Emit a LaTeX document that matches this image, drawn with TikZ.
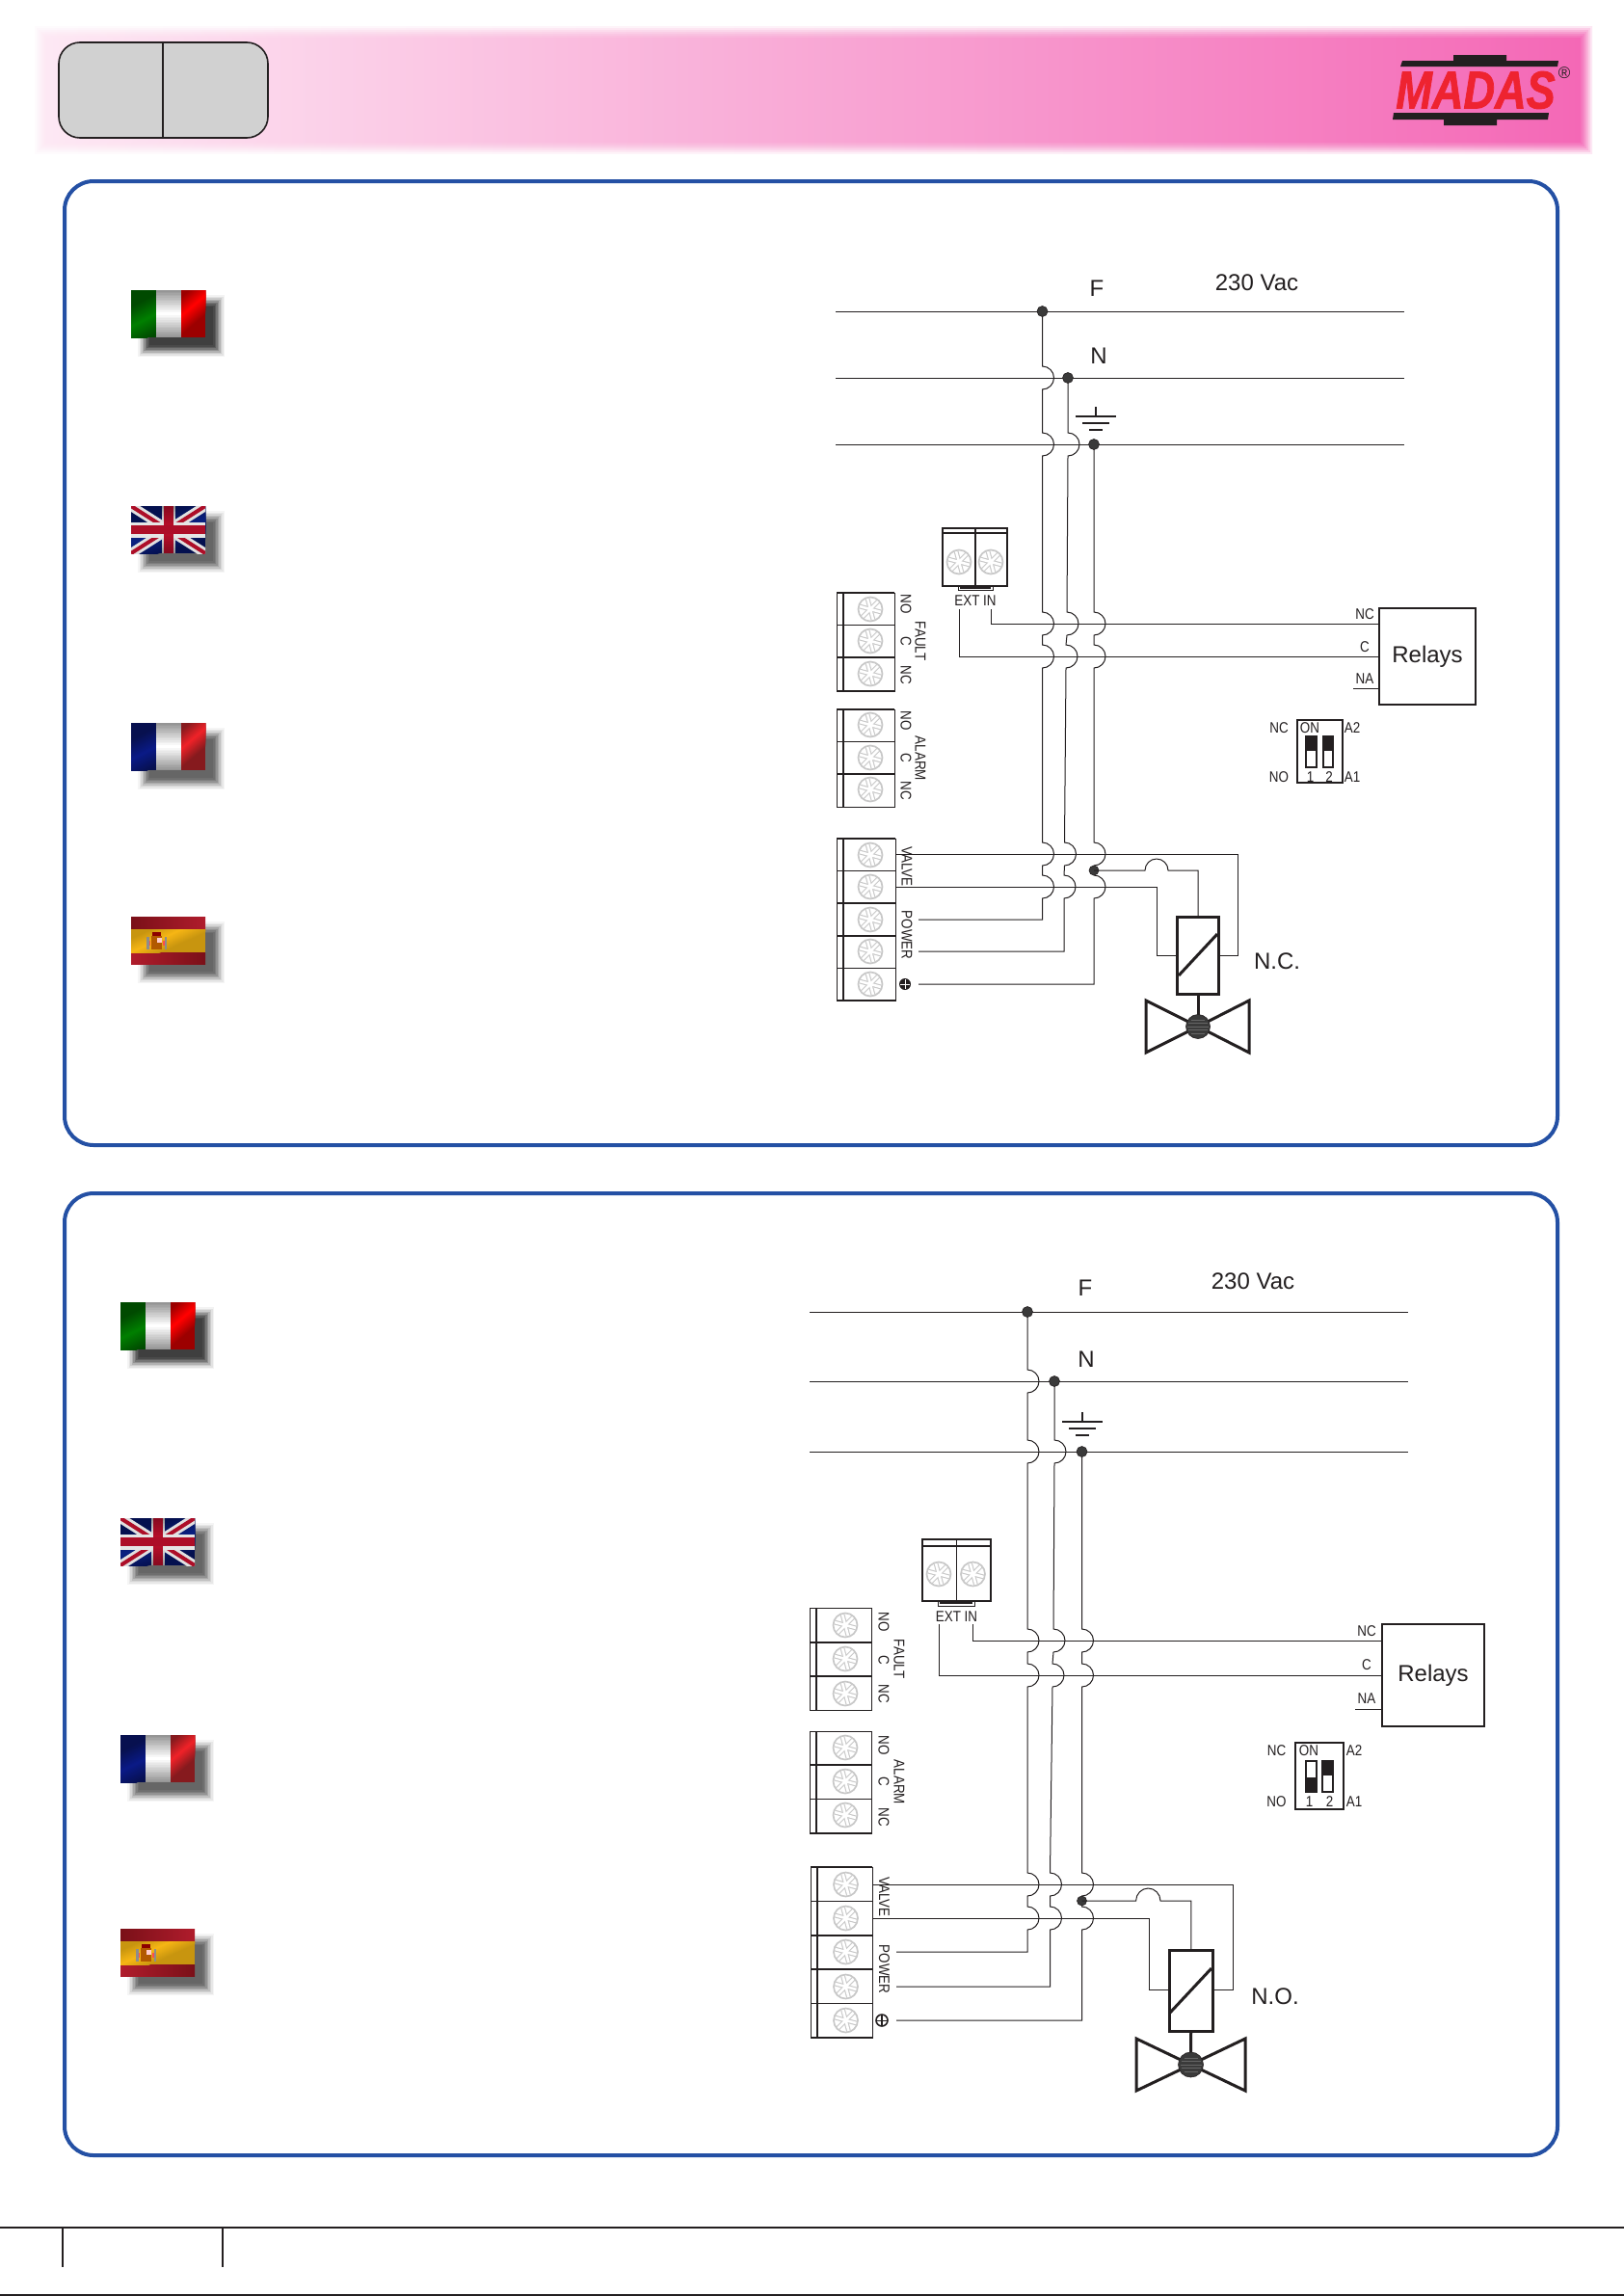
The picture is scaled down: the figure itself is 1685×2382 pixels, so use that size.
\documentclass[tikz,border=0pt]{standalone}
\usepackage{fontspec}
\usepackage{graphicx}
\setmainfont{Liberation Sans}
\newfontfamily\condfont[FakeStretch=0.86]{Liberation Sans}
\newfontfamily\logofont[BoldItalicFeatures={FakeBold=1.6}]{Liberation Sans}
\definecolor{panelblue}{HTML}{2450A4}
\definecolor{inkk}{HTML}{231F20}
\definecolor{screwc}{HTML}{C8C8C8}
\definecolor{dotc}{HTML}{3A3A3A}
\definecolor{logored}{HTML}{EE2330}
\definecolor{bandL}{HTML}{FDE8F4}
\definecolor{bandM}{HTML}{F8A6D8}
\definecolor{bandR}{HTML}{F468B6}
\definecolor{itgE}{HTML}{004A00}\definecolor{itgM}{HTML}{007E00}
\definecolor{itrE}{HTML}{9C0000}\definecolor{itrM}{HTML}{FF0000}
\definecolor{whE}{HTML}{959595}\definecolor{whM}{HTML}{FFFFFF}
\definecolor{frbE}{HTML}{07104F}\definecolor{frbM}{HTML}{0A1A85}
\definecolor{frrE}{HTML}{861A1E}\definecolor{frrM}{HTML}{ED2228}
\definecolor{ukbE}{HTML}{04104F}\definecolor{ukbM}{HTML}{0A2080}
\definecolor{ukrE}{HTML}{8A0A20}\definecolor{ukrM}{HTML}{C0102C}
\definecolor{esrA}{HTML}{7A1018}\definecolor{esrB}{HTML}{B01C2C}
\definecolor{esyE}{HTML}{C8950F}\definecolor{esyM}{HTML}{F5B514}
\tikzset{
 panelbox/.style={draw=panelblue,line width=2pt,rounded corners=15pt},
 wire/.style={draw=inkk,line width=0.5pt},
 heavyline/.style={draw=inkk,line width=1pt},
 thinline/.style={draw=inkk,line width=0.5pt},
 thickline/.style={draw=inkk,line width=1.5pt},
 txtS/.style={font=\condfont\fontsize{7.8}{9}\selectfont,text=inkk,inner sep=0pt,outer sep=0pt},
 txtL/.style={font=\fontsize{12}{14}\selectfont,text=inkk,inner sep=0pt,outer sep=0pt},
 rotS/.style={txtS,rotate=-90},
 joint/.style={circle,fill=dotc,draw=inkk,line width=0.3pt,minimum size=5.5pt,inner sep=0pt,outer sep=0pt},
 relaybox/.style={draw=inkk,line width=0.6pt,txtL,minimum width=50pt,minimum height=50pt,inner sep=0pt,outer sep=0pt},
 coilbox/.style={draw=inkk,line width=1.5pt,inner sep=0pt,outer sep=0pt},
 ballshape/.style={circle,fill=dotc,draw=inkk,line width=0.3pt,minimum size=12.5pt,inner sep=0pt,outer sep=0pt},
 dipbox/.style={draw=inkk,line width=0.7pt,inner sep=0pt,outer sep=0pt},
}
% screw
\newcommand{\screwmark}[2]{%
 \begin{scope}[shift={(#1,#2)}]
  \foreach \a in {15,75,135}{
   \draw[screwc,line width=2.4pt] (\a:11.5) -- (\a+180:11.5);}
  \foreach \a in {15,75,135}{
   \draw[white,line width=1.3pt] (\a:12) -- (\a+180:12);}
  \fill[white] (0,0) circle (2.4);
  \draw[screwc,line width=0.85pt] (0,0) circle (12.5);
 \end{scope}}
\newcommand{\termframe}[5]{%
 \draw[thinline] (#1,#4) rectangle (#3,#5);
 \draw[heavyline] (#2,#4) -- (#2,#5);}
\newcommand{\hrow}[4]{\draw[heavyline] (#1,#3) -- (#2,#3);}
\newcommand{\lrow}[4]{\draw[thinline] (#1,#3) -- (#2,#3);}
\newcommand{\vwire}[4]{%
 \draw[wire] (#1) \foreach \x/\y in {#2}{ -- (\x,\y-12) .. controls (\x+6.6,\y-12) and (\x+12,\y-6.6) .. (\x+12,\y) .. controls (\x+12,\y+6.6) and (\x+6.6,\y+12) .. (\x,\y+12) } -- (#3) -- (#4);}
\newcommand{\earthsym}[2]{%
 \draw[heavyline] (#1,#2) -- (#1,#2+10);
 \draw[heavyline] (#1-21,#2+10) -- (#1+21,#2+10);
 \draw[heavyline] (#1-14,#2+17) -- (#1+14,#2+17);
 \draw[heavyline] (#1-7,#2+24) -- (#1+7,#2+24);}
\newcommand{\pesignA}[2]{%
 \fill[inkk] (#1,#2) circle (6);
 \draw[white,line width=0.45pt] (#1-5,#2) -- (#1+5,#2);
 \draw[white,line width=0.45pt] (#1,#2-5) -- (#1,#2+5);}
\newcommand{\pesignB}[2]{%
 \draw[inkk,line width=0.8pt] (#1,#2) circle (6);
 \draw[inkk,line width=0.5pt] (#1-5.5,#2) -- (#1+5.5,#2);
 \draw[inkk,line width=1pt] (#1,#2-5.5) -- (#1,#2+5.5);}
\newcommand{\dipsw}[6]{%
 \fill[inkk] (#1,#4) rectangle (#2,#5);
 \draw[inkk,line width=0.7pt] (#1,#3) rectangle (#2,#6);}
\newcommand{\valvetri}[5]{%
 \draw[thickline,line join=miter] (#3,#2-27) -- (#1,#2) -- (#3,#2+27) -- cycle;
 \draw[thickline,line join=miter] (#4,#2-27) -- (#1,#2) -- (#4,#2+27) -- cycle;}
\newcommand{\ballstripes}[2]{%
 \foreach \d/\h in {-7/7,-3.5/10,0/11,3.5/10,7/7}{
  \draw[black!60,line width=0.3pt] (#1-\h,#2+\d) -- (#1+\h,#2+\d);}}
% flag shadow
\newcommand{\flagshadow}[1]{%
 \foreach \d/\o in {7/0.06,5.5/0.09,4/0.13,2.5/0.18,1/0.25,-0.5/0.3,-2/0.4,-3.5/0.5,-5/0.6}{
  \fill[#1,opacity=\o] (14-\d,12-\d) rectangle (90+\d,62+\d);}}
% nested bands: x0 x1 y0 y1 edge mid yc-at-x0 slope halfwidth
\newcommand{\gradbox}[9]{%
 \begin{scope}
 \clip (#1,#3) rectangle (#2,#4);
 \fill[#5] (#1,#3) rectangle (#2,#4);
 \pgfmathsetmacro\yr{#7+(#2-#1)*#8}
 \foreach \i in {0,...,13}{
  \pgfmathsetmacro\hw{#9*(1-\i/14)}
  \pgfmathtruncatemacro\p{100*(\i+1)/14}
  \fill[#6!\p!#5] (#1,#7-\hw) -- (#2,\yr-\hw) -- (#2,\yr+\hw) -- (#1,#7+\hw) -- cycle;}
 \end{scope}}
\newcommand{\flagIT}[2]{\begin{scope}[shift={(#1,#2)}]
 \flagshadow{black!78}
 \gradbox{0}{26}{0}{49}{itgE}{itgM}{38}{-0.5}{20}
 \gradbox{26}{52}{0}{49}{whE}{whM}{24.5}{0}{23}
 \gradbox{52}{77}{0}{49}{itrE}{itrM}{27}{-0.85}{19}
\end{scope}}
\newcommand{\flagFR}[2]{\begin{scope}[shift={(#1,#2)}]
 \flagshadow{black!62}
 \gradbox{0}{26}{0}{49}{frbE}{frbM}{38}{-0.5}{20}
 \gradbox{26}{52}{0}{49}{whE}{whM}{24.5}{0}{23}
 \gradbox{52}{77}{0}{49}{frrE}{frrM}{27}{-0.85}{19}
\end{scope}}
\newcommand{\flagUK}[2]{\begin{scope}[shift={(#1,#2)}]
 \flagshadow{black!62}
 \begin{scope}
  \clip (0,0) rectangle (77,49);
  \gradbox{0}{77}{0}{49}{ukbE}{ukbM}{38}{-0.3}{20}
  \draw[black!12,line width=5pt] (0,0) -- (77,49);
  \draw[black!12,line width=5pt] (77,0) -- (0,49);
  \draw[ukrM!90!black,line width=2pt] (0,0) -- (77,49);
  \draw[ukrM!90!black,line width=2pt] (77,0) -- (0,49);
  \gradbox{32}{46}{0}{49}{whE}{whM}{24.5}{0}{23}
  \fill[black!10] (0,17) rectangle (77,33);
  \gradbox{34}{44}{0}{49}{ukrE}{ukrM}{24.5}{0}{22}
  \fill[ukrM!90!black] (0,20) rectangle (77,29);
 \end{scope}
\end{scope}}
\newcommand{\flagES}[2]{\begin{scope}[shift={(#1,#2)}]
 \flagshadow{black!62}
 \shade[left color=esrA,middle color=esrA,right color=esrB] (0,0) rectangle (77,13);
 \shade[left color=esrB,middle color=esrA,right color=esrA] (0,37) rectangle (77,49);
 \gradbox{0}{77}{13}{37}{esyE}{esyM}{37}{-0.45}{14}
 \fill[orange!70!black] (21,20) rectangle (32,34);
 \fill[red!55!black] (22,16) rectangle (31,20);
 \fill[pink!80!white] (27,22) rectangle (32,27);
 \fill[black!45] (16,21) rectangle (18.5,34);
 \fill[black!45] (34.5,21) rectangle (37,34);
 \fill[red!70!white] (18.5,25) rectangle (20,30);
 \fill[red!70!white] (33,25) rectangle (34.5,30);
\end{scope}}
\begin{document}
\begin{tikzpicture}[x=0.5pt,y=-0.5pt]
\useasboundingbox (0,0) rectangle (1685,2382);
\fill[white] (0,0) rectangle (1685,2382);
% header band
\foreach \i/\o in {0/0.15,2/0.2,4/0.25,6/0.3,8/0.4,10/0.5,12/1}{
 \shade[left color=bandL,middle color=bandM,right color=bandR,opacity=\o] (36+\i,27+\i) rectangle (1652-\i,159-\i);}
\draw[draw=inkk,line width=0.8pt,fill=black!18,rounded corners=11pt] (61,44) rectangle (278,143);
\draw[inkk,line width=0.6pt] (169,44) -- (169,143);
% logo
\fill[inkk] (1453,69) -- (1455,63) -- (1508,63) -- (1508,57) -- (1563,57) -- (1563,63) -- (1617,63) -- (1616,69) -- cycle;
\fill[inkk] (1445,124) -- (1446,117) -- (1607,117) -- (1606,124) -- (1553,124) -- (1553,130) -- (1498,130) -- (1498,124) -- cycle;
\node[inner sep=0pt,text=logored] (logotext) at (1531,93.5) {\scalebox{0.82}[1]{\logofont\fontsize{27.5}{30}\selectfont\bfseries\itshape MADAS}};
\node[inner sep=0pt,text=inkk] (logoreg) at (1623,76) {\fontsize{8.5}{9}\selectfont ®};
% panels
\draw[panelbox] (67,188) rectangle (1616,1188);
\draw[panelbox] (67,1238) rectangle (1616,2236);
% flags
\flagIT{136}{301}
\flagUK{136}{525}
\flagFR{136}{750}
\flagES{136}{951}
\flagIT{125}{1351}
\flagUK{125}{1575}
\flagFR{125}{1800}
\flagES{125}{2001}
% footer
\draw[heavyline] (0,2311) -- (1685,2311);
\draw[heavyline] (65,2311) -- (65,2352);
\draw[heavyline] (231,2311) -- (231,2352);
\draw[inkk,line width=0.8pt] (0,2381) -- (1685,2381);

%% ---------- PANEL A (N.C.) ----------
\draw[wire] (867,323) -- (1457,323);
\draw[wire] (867,392) -- (1457,392);
\draw[wire] (867,461) -- (1457,461);
\node[txtL] (fA) at (1138,299) {F};
\node[txtL] (nA) at (1140,369) {N};
\node[txtL] (vacA) at (1304,293) {230 Vac};
\earthsym{1137}{422}
\node[relaybox] (relayA) at (1481,681) {Relays};
\coordinate (ncA) at (1431,647);
\coordinate (cA) at (1431,681);
\coordinate (naA) at (1431,714);
\coordinate (extA) at (995.5,632);
\coordinate (inA) at (1028.5,632);
\draw[wire] (inA) |- (ncA);
\draw[wire] (extA) |- (cA);
\draw[wire] (1404,714) -- (naA);
\node[txtS] at (1416,637) {NC};
\node[txtS] at (1416,671) {C};
\node[txtS] at (1416,704) {NA};
\coordinate (w1sA) at (1081.5,323);
\coordinate (w2sA) at (1108,392);
\coordinate (w3sA) at (1135,461);
\vwire{w1sA}{1081.5/392,1081.5/461,1081.5/647,1081.5/681,1081.5/886,1081.5/920}{1081.5,954}{953,954}
\vwire{w2sA}{1108/461,1107/647,1106/681,1104.5/886,1104/920}{1104,987}{953,987}
\vwire{w3sA}{1135/647,1135/681,1135/886,1135/920}{1135,1021}{953,1021}
\node[joint] (d1A) at (w1sA) {};
\node[joint] (d2A) at (w2sA) {};
\node[joint] (d3A) at (w3sA) {};
\node[joint,minimum size=5pt] (d4A) at (1135,903) {};
% fault block
\termframe{868}{875}{928}{615}{717}
\hrow{868}{928}{615}{}\lrow{868}{928}{648}{}\hrow{868}{928}{682}{}\hrow{868}{928}{717}{}
\foreach \y in {632,665,699}{\screwmark{903}{\y}}
\node[rotS] at (940,627) {NO};
\node[rotS] at (940,665) {C};
\node[rotS] at (940,700) {NC};
\node[rotS] at (955,665) {FAULT};
% alarm block
\termframe{868}{875}{928}{736}{837}
\hrow{868}{928}{736}{}\lrow{868}{928}{769}{}\hrow{868}{928}{803}{}\lrow{868}{928}{837}{}
\foreach \y in {752,786,819}{\screwmark{903}{\y}}
\node[rotS] at (940,748) {NO};
\node[rotS] at (940,786) {C};
\node[rotS] at (940,820) {NC};
\node[rotS] at (955,787) {ALARM};
% ext in block
\draw[heavyline] (978,548) rectangle (1045,608);
\draw[heavyline] (978,553) -- (1045,553);
\draw[heavyline] (1012,548) -- (1012,608);
\screwmark{995}{583}\screwmark{1028}{583}
\draw[thinline] (994,608) -- (994,612) -- (1030,612) -- (1030,608);
\draw[heavyline] (996,609.5) -- (1028,609.5);
\node[txtS] at (1012,623) {EXT IN};
% valve terminal block
\termframe{868}{875}{929}{870}{1038}
\hrow{868}{929}{870}{}\lrow{868}{929}{903}{}\hrow{868}{929}{937}{}\hrow{868}{929}{971}{}\lrow{868}{929}{1004}{}\hrow{868}{929}{1038}{}
\foreach \y in {887,920,954,987,1021}{\screwmark{903}{\y}}
\node[rotS] at (941,899) {VALVE};
\node[rotS] at (941,970) {POWER};
\pesignA{939}{1021}
% coil
\node[coilbox,minimum width=21.25pt,minimum height=40pt] (coilA) at (1243,991) {};
\node[txtL] at (1325,997) {N.C.};
\draw[wire] (929,886) -| (1284,991) -- (coilA.east);
\draw[wire] (929,920) -| (1200.5,991) -- (coilA.west);
\draw[wire] (d4A.center) -- (1188,903) .. controls (1188,896.4) and (1193.4,891) .. (1200,891) .. controls (1206.6,891) and (1212,896.4) .. (1212,903) -| (coilA.north);
\draw[thickline] (1223,1012) -- (1263,969);
\valvetri{1243}{1065}{1189}{1296}{}
\node[ballshape] (ballA) at (1243,1065) {};
\ballstripes{1243}{1065}
\draw[thickline] (coilA.south) -- (ballA);
% dip
\draw[dipbox] (1346,747) rectangle (1393,812);
\dipsw{1355}{1366}{764}{764}{779}{796}
\dipsw{1373}{1383}{764}{764}{779}{796}
\node[txtS] at (1359,755) {ON};
\node[txtS] at (1327,755) {NC};
\node[txtS] at (1403,755) {A2};
\node[txtS] at (1327,806) {NO};
\node[txtS] at (1403,806) {A1};
\node[txtS] at (1359.5,806) {1};
\node[txtS] at (1379,806) {2};

%% ---------- PANEL B (N.O.) ----------
\draw[wire] (840,1361) -- (1461,1361);
\draw[wire] (840,1433) -- (1461,1433);
\draw[wire] (840,1506) -- (1461,1506);
\node[txtL] (fB) at (1126,1336) {F};
\node[txtL] (nB) at (1127,1410) {N};
\node[txtL] (vacB) at (1300,1329) {230 Vac};
\earthsym{1123}{1465}
\node[relaybox,minimum width=53pt,minimum height=53pt] (relayB) at (1487,1738) {Relays};
\coordinate (ncB) at (1434,1702);
\coordinate (cB) at (1434,1738);
\coordinate (naB) at (1434,1773);
\coordinate (extB) at (974.6,1685);
\coordinate (inB) at (1009,1685);
\draw[wire] (inB) |- (ncB);
\draw[wire] (extB) |- (cB);
\draw[wire] (1406,1773) -- (naB);
\node[txtS] at (1418,1692) {NC};
\node[txtS] at (1418,1727) {C};
\node[txtS] at (1418,1762) {NA};
\coordinate (w1sB) at (1066,1361);
\coordinate (w2sB) at (1094,1433);
\coordinate (w3sB) at (1122.5,1506);
\vwire{w1sB}{1066/1433,1066/1506,1066/1702,1066/1738,1066/1955,1066/1990}{1066,2025}{930,2025}
\vwire{w2sB}{1094/1506,1093/1702,1092/1738,1089.5/1955,1089.5/1990}{1089.5,2061}{930,2061}
\vwire{w3sB}{1122.5/1702,1122.5/1738,1122.5/1955,1122.5/1990}{1122.5,2096}{930,2096}
\node[joint] (d1B) at (w1sB) {};
\node[joint] (d2B) at (w2sB) {};
\node[joint] (d3B) at (w3sB) {};
\node[joint,minimum size=5pt] (d4B) at (1122.5,1972) {};
% fault
\termframe{840.5}{847}{904}{1668}{1774}
\lrow{840.5}{904}{1668}{}\hrow{840.5}{904}{1704}{}\hrow{840.5}{904}{1739}{}\lrow{840.5}{904}{1774}{}
\foreach \y in {1686,1721,1757}{\screwmark{877}{\y}}
\node[rotS] at (917,1683) {NO};
\node[rotS] at (917,1722) {C};
\node[rotS] at (917,1757) {NC};
\node[rotS] at (933,1721) {FAULT};
% alarm
\termframe{840.5}{847}{904}{1796}{1902}
\lrow{840.5}{904}{1796}{}\hrow{840.5}{904}{1831}{}\lrow{840.5}{904}{1866}{}\hrow{840.5}{904}{1902}{}
\foreach \y in {1813,1848,1883}{\screwmark{877}{\y}}
\node[rotS] at (917,1811) {NO};
\node[rotS] at (917,1848) {C};
\node[rotS] at (917,1885) {NC};
\node[rotS] at (933,1849) {ALARM};
% ext in
\draw[heavyline] (957,1597) rectangle (1028,1661);
\draw[heavyline] (957,1604) -- (1028,1604);
\draw[thinline] (992,1597) -- (992,1661);
\screwmark{974}{1633}\screwmark{1009.5}{1633}
\draw[thinline] (973,1661) -- (973,1666) -- (1011,1666) -- (1011,1661);
\draw[heavyline] (975,1663) -- (1009,1663);
\node[txtS] at (992.5,1677) {EXT IN};
% valve terminal block
\termframe{841}{848}{905}{1937}{2114}
\hrow{841}{905}{1937}{}\lrow{841}{905}{1972}{}\hrow{841}{905}{2008}{}\hrow{841}{905}{2043}{}\lrow{841}{905}{2078}{}\hrow{841}{905}{2114}{}
\foreach \y in {1955,1990,2025,2061,2096}{\screwmark{877.5}{\y}}
\node[rotS] at (917.6,1968) {VALVE};
\node[rotS] at (917.6,2043) {POWER};
\pesignB{915}{2096}
% coil
\node[coilbox,minimum width=22.25pt,minimum height=42pt] (coilB) at (1235.75,2065) {};
\node[txtL] at (1323,2071) {N.O.};
\draw[wire] (905,1955) -| (1279,2064) -- (coilB.east |- 1279,2064);
\draw[wire] (905,1990) -| (1192,2064) -- (coilB.west |- 1192,2064);
\draw[wire] (d4B.center) -- (1178.6,1972) .. controls (1178.6,1965) and (1184.3,1959) .. (1191.3,1959) .. controls (1198.3,1959) and (1204,1965) .. (1204,1972) -| (coilB.north);
\draw[thickline] (1214,2088) -- (1257,2042);
\valvetri{1235.5}{2142}{1179}{1292}{}
\node[ballshape,minimum size=13pt] (ballB) at (1235.5,2142) {};
\ballstripes{1235.5}{2142}
\draw[thickline] (coilB.south) -- (ballB);
% dip
\draw[dipbox] (1344,1808) rectangle (1394,1877);
\dipsw{1355}{1366}{1827}{1844}{1859}{1859}
\dipsw{1372}{1383}{1827}{1827}{1842}{1859}
\node[txtS] at (1358,1816) {ON};
\node[txtS] at (1324.5,1816) {NC};
\node[txtS] at (1405,1816) {A2};
\node[txtS] at (1324.5,1869) {NO};
\node[txtS] at (1405,1869) {A1};
\node[txtS] at (1358.5,1869) {1};
\node[txtS] at (1379.5,1869) {2};
\end{tikzpicture}
\end{document}
